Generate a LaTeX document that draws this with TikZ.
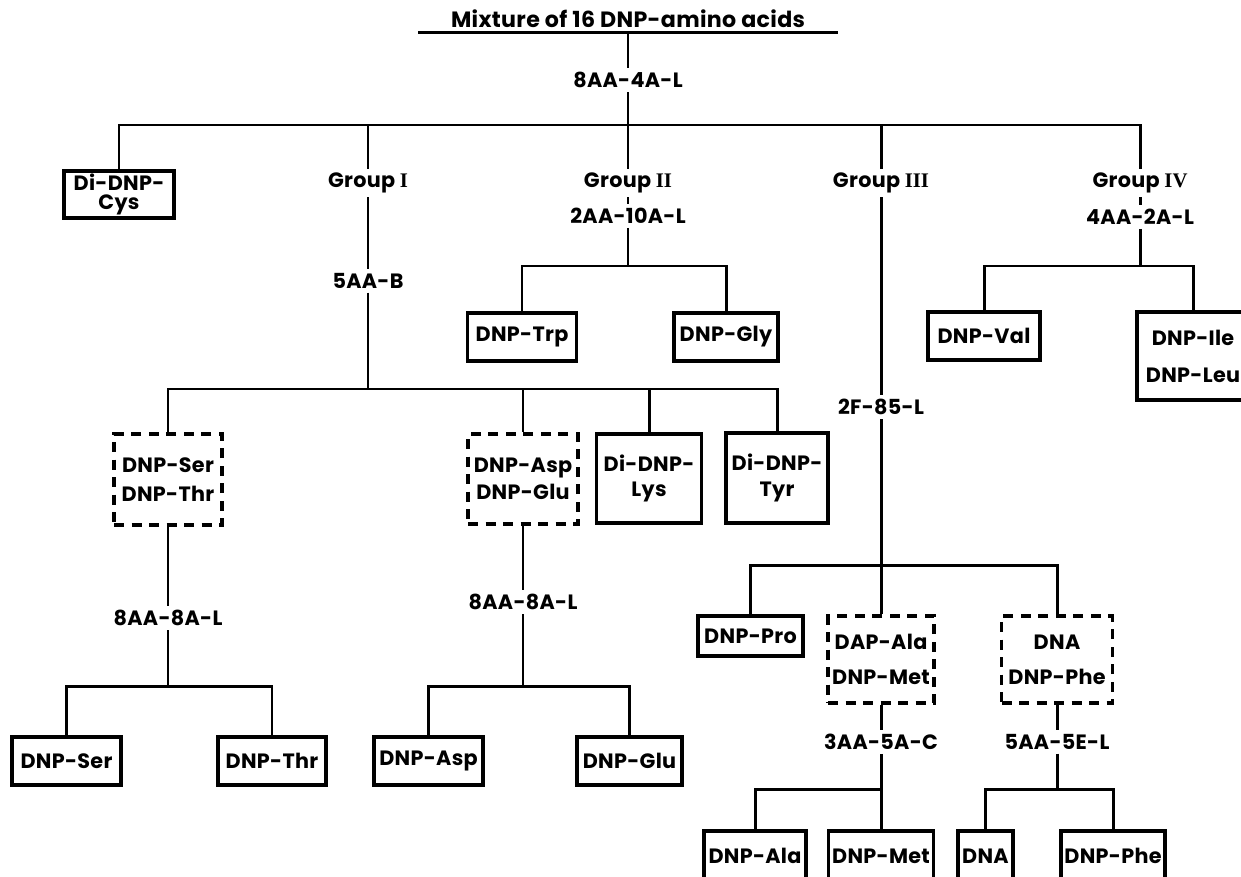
\documentclass[tikz,border=0pt]{standalone}
\usepackage{fontspec}
\setmainfont{Poppins}[LetterSpace=1.5]
\newfontfamily\romnum{Liberation Serif}

\begin{document}
\begin{tikzpicture}[x=0.2mm, y=-0.2mm, line width=1.7pt,
        every node/.style={font=\bfseries\fontsize{11.8}{14}\selectfont},
        lab/.style={inner sep=1.5pt},
        box/.style={draw, line width=1.9pt, minimum height=9.6mm, align=center, inner sep=0pt},
        dbox/.style={box, dash pattern=on 2mm off 1.5mm}]
    \useasboundingbox (0,0) rectangle (1241,877);

    % top of the scheme
    \node [lab, minimum width=83.4mm, font=\bfseries\fontsize{12.6}{14}\selectfont] (mix) at (628,19) {Mixture of 16 DNP-amino acids};
    \node [lab] (m1) at (628,80) {8AA-4A-L};
    \coordinate (j0) at (628,125);
    \node [box, minimum width=22mm, minimum height=9.4mm] (cys) at (119,194.5) {Di-DNP-\\[-3pt]Cys};
    \node [lab] (g1) at (368,183) {Group {\romnum I}};
    \node [lab] (s1) at (368,281) {5AA-B};
    \node [lab] (g2) at (628,183) {Group {\romnum II}};
    \node [lab] (s2) at (628,216) {2AA-10A-L};
    \node [lab] (g3) at (881,183) {Group {\romnum III}};
    \node [lab] (s3) at (881,407) {2F-85-L};
    \node [lab] (g4) at (1140,183) {Group {\romnum IV}};
    \node [lab] (s4) at (1140,217) {4AA-2A-L};

    % group II
    \coordinate (j2) at (628,266);
    \node [box, minimum width=21.8mm] (trp) at (522,337) {DNP-Trp};
    \node [box, minimum width=20.8mm] (gly) at (726,337) {DNP-Gly};

    % group IV
    \coordinate (j4) at (1140,266);
    \node [box, minimum width=22.4mm] (val) at (984,336) {DNP-Val};
    \node [box, minimum width=22.4mm, minimum height=17.6mm] (ilu) at (1193,356) {DNP-Ile\\[7pt]DNP-Leu};

    % group I
    \coordinate (j1) at (368,389);
    \node [dbox, minimum width=21.6mm, minimum height=18.2mm] (sert) at (168,479.5) {DNP-Ser\\[2.4pt]DNP-Thr};
    \node [dbox, minimum width=22mm, minimum height=18mm] (aspglu) at (523,479) {DNP-Asp\\[1.3pt]DNP-Glu};
    \node [box, minimum width=21mm, minimum height=17.8mm] (lys) at (649,478.5) {Di-DNP-\\[0.7pt]Lys};
    \node [box, minimum width=20.4mm, minimum height=18mm] (tyr) at (777,478) {Di-DNP-\\[0.7pt]Tyr};
    \node [lab] (s5) at (168,618) {8AA-8A-L};
    \coordinate (j5) at (168,686);
    \node [box, minimum width=21.8mm] (ser) at (66.5,761) {DNP-Ser};
    \node [box, minimum width=21.6mm] (thr) at (272,761) {DNP-Thr};
    \node [lab] (s6) at (523,602) {8AA-8A-L};
    \coordinate (j6) at (523,686);
    \node [box, minimum width=21.8mm] (asp) at (428.5,761) {DNP-Asp};
    \node [box, minimum width=21mm] (glu) at (629.5,761) {DNP-Glu};

    % group III
    \coordinate (j3) at (881,565);
    \node [box, minimum width=21mm, minimum height=8mm] (pro) at (750.5,636) {DNP-Pro};
    \node [dbox, minimum width=21.2mm, minimum height=17.4mm] (alamet) at (881,659.5) {DAP-Ala\\[5.8pt]DNP-Met};
    \node [dbox, minimum width=22.2mm, minimum height=17.4mm] (dnaphe) at (1057,659.5) {DNA\\[5.8pt]DNP-Phe};
    \node [lab] (s7) at (881,742) {3AA-5A-C};
    \coordinate (j7) at (881,789);
    \node [lab] (s8) at (1057,742) {5AA-5E-L};
    \coordinate (j8) at (1057,789);
    \node [box, minimum width=20.4mm, minimum height=10mm] (ala) at (755,856) {DNP-Ala};
    \node [box, minimum width=21mm, minimum height=10mm] (met) at (881,856) {DNP-Met};
    \node [box, minimum width=11mm, minimum height=10mm] (dna) at (985.5,856) {DNA};
    \node [box, minimum width=20.8mm, minimum height=10mm] (phe) at (1113,856) {DNP-Phe};

    % connectors
    \draw (mix.south west) -- (mix.south east);
    \path [draw] (mix) edge (m1) (m1) edge (j0);
    \draw (j0) -| (cys);
    \draw (j0) -| (g1);
    \draw (j0) -- (g2);
    \draw (j0) -| (g3);
    \draw (j0) -| (g4);
    \path [draw] (g1) edge (s1) (s1) edge (j1);
    \path [draw] (g2) edge (s2) (s2) edge (j2);
    \path [draw] (g3) edge (s3) (s3) edge (j3);
    \path [draw] (g4) edge (s4) (s4) edge (j4);
    \draw (j2) -| (trp);
    \draw (j2) -| (gly);
    \draw (j4) -| (val);
    \draw (j4) -| (ilu);
    \draw (j1) -| (sert);
    \draw (j1) -| (aspglu);
    \draw (j1) -| (lys);
    \draw (j1) -| (tyr);
    \path [draw] (sert) edge (s5) (s5) edge (j5);
    \draw (j5) -| (ser);
    \draw (j5) -| (thr);
    \path [draw] (aspglu) edge (s6) (s6) edge (j6);
    \draw (j6) -| (asp);
    \draw (j6) -| (glu);
    \draw (j3) -| (pro);
    \draw (j3) -- (alamet);
    \draw (j3) -| (dnaphe);
    \path [draw] (alamet) edge (s7) (s7) edge (j7) (j7) edge (met);
    \draw (j7) -| (ala);
    \path [draw] (dnaphe) edge (s8) (s8) edge (j8);
    \draw (j8) -| (dna);
    \draw (j8) -| (phe);
\end{tikzpicture}
\end{document}
